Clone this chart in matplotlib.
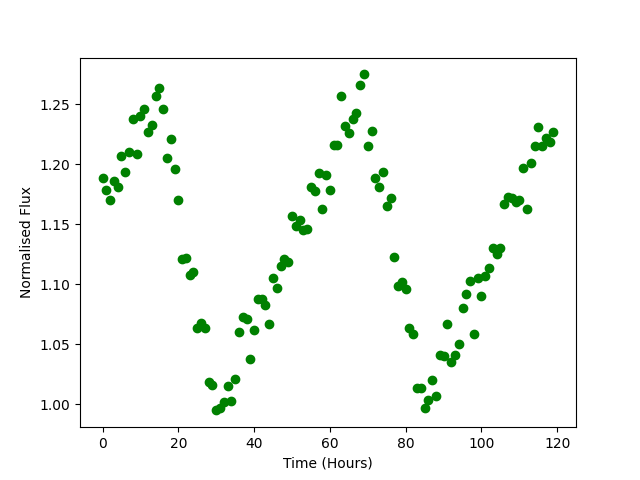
import matplotlib
matplotlib.use("Agg")
import matplotlib.pyplot as plt
import numpy as np

hours = np.arange(120)
flux = [1.189, 1.179, 1.170, 1.186, 1.181, 1.207, 1.194, 1.210, 1.238, 1.209,
        1.240, 1.246, 1.227, 1.233, 1.257, 1.264, 1.246, 1.205, 1.221, 1.196,
        1.170, 1.121, 1.122, 1.108, 1.110, 1.064, 1.068, 1.064, 1.019, 1.016,
        0.995, 0.997, 1.002, 1.015, 1.003, 1.021, 1.060, 1.073, 1.071, 1.038,
        1.062, 1.088, 1.088, 1.083, 1.067, 1.105, 1.097, 1.115, 1.121, 1.119,
        1.157, 1.149, 1.154, 1.145, 1.146, 1.181, 1.178, 1.193, 1.163, 1.191,
        1.179, 1.216, 1.216, 1.257, 1.232, 1.226, 1.238, 1.243, 1.266, 1.275,
        1.215, 1.228, 1.189, 1.181, 1.194, 1.165, 1.172, 1.123, 1.099, 1.102,
        1.096, 1.064, 1.059, 1.014, 1.014, 0.997, 1.004, 1.020, 1.007, 1.041,
        1.040, 1.067, 1.035, 1.041, 1.050, 1.080, 1.092, 1.103, 1.059, 1.105,
        1.090, 1.107, 1.114, 1.130, 1.125, 1.130, 1.167, 1.173, 1.172, 1.169,
        1.170, 1.197, 1.163, 1.201, 1.215, 1.231, 1.215, 1.222, 1.219, 1.227]

fig, ax = plt.subplots(figsize=(6.4, 4.8), dpi=100)
ax.plot(hours, flux, 'o', color='green')
ax.set_xlabel('Time (Hours)')
ax.set_ylabel('Normalised Flux')
fig.savefig('out.png')
